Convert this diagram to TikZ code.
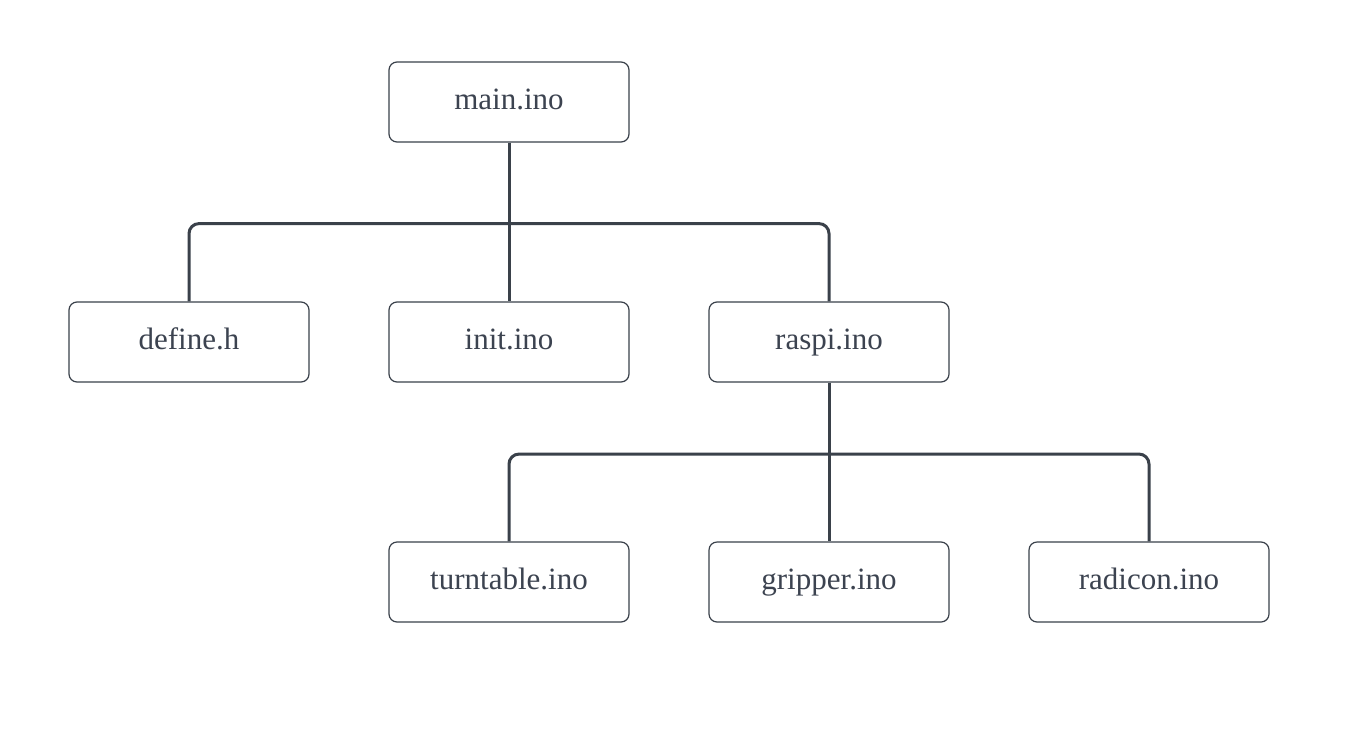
\documentclass[tikz,border=0pt]{standalone}
\usepackage{fontspec}
\setmainfont{Liberation Serif}
\usetikzlibrary{calc}
\definecolor{ink}{HTML}{3A414A}
\definecolor{txt}{HTML}{3C4350}
\tikzset{
  filebox/.style={draw=ink, line width=1.2pt, rounded corners=8pt, minimum width=240pt, minimum height=80pt, inner sep=0pt, text height=21pt, text depth=7pt, text=txt, font=\fontsize{31}{37}\selectfont, fill=white},
  conn/.style={draw=ink, line width=3pt, rounded corners=10pt}
}
\begin{document}
\begin{tikzpicture}[x=1pt,y=-1pt]
\useasboundingbox[fill=white] (0,0) rectangle (1348,747);
\node[filebox] (main) at (509,102) {main.ino};
\node[filebox] (define) at (189,342) {define.h};
\node[filebox] (init) at (509,342) {init.ino};
\node[filebox] (raspi) at (829,342) {raspi.ino};
\node[filebox] (turn) at (509,582) {turntable.ino};
\node[filebox] (grip) at (829,582) {gripper.ino};
\node[filebox] (radi) at (1149,582) {radicon.ino};
\draw[conn] (main.south) -- (init.north);
\draw[conn] (define.north) |- ($(main.south)!0.51!(init.north)$) -| (raspi.north);
\draw[conn] (raspi.south) -- (grip.north);
\draw[conn] (turn.north) |- ($(raspi.south)!0.45!(grip.north)$) -| (radi.north);
\end{tikzpicture}
\end{document}
